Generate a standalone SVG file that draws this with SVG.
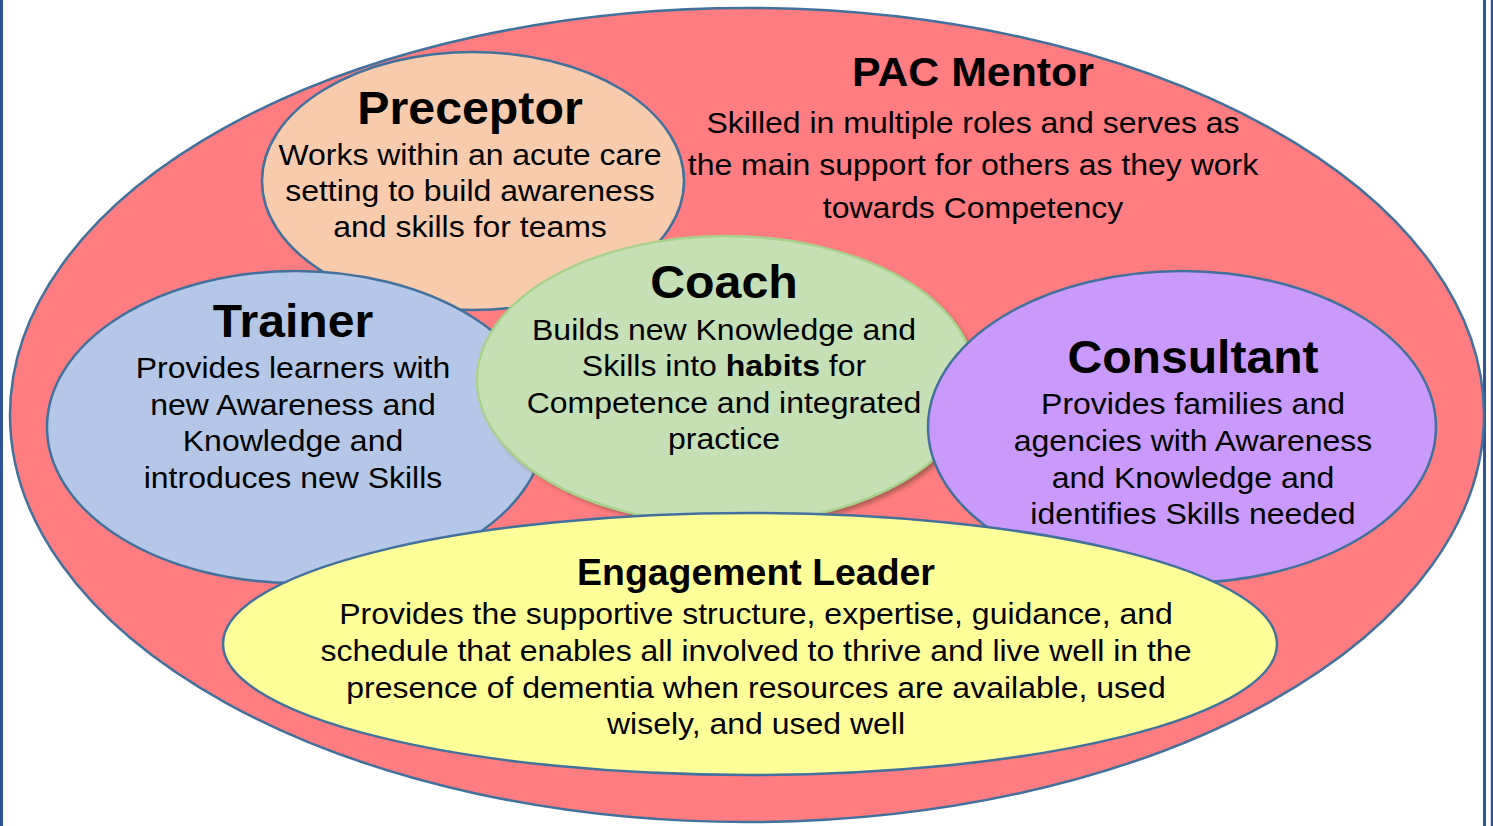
<svg xmlns="http://www.w3.org/2000/svg" width="1493" height="826" viewBox="0 0 1493 826">
<style>
.e{stroke:#41719c;stroke-width:2.5}
.t{font-family:"Liberation Sans",Arial,sans-serif;font-weight:bold;fill:#000;text-anchor:middle}
.b{font-family:"Liberation Sans",Arial,sans-serif;font-size:29px;fill:#000;text-anchor:middle}
</style>
<defs>
<filter id="sh" x="-10%" y="-10%" width="120%" height="120%"><feGaussianBlur stdDeviation="2"/></filter>
</defs>
<rect x="0" y="0" width="1493" height="826" fill="#fff"/>
<line x1="1.5" y1="0" x2="1.5" y2="826" stroke="#2f5597" stroke-width="3"/>
<line x1="1484.5" y1="0" x2="1484.5" y2="826" stroke="#2f5597" stroke-width="3"/>
<line x1="1492" y1="0" x2="1492" y2="826" stroke="#2f5597" stroke-width="2.5"/>
<g id="pac-mentor">
<ellipse class="e" cx="747" cy="415" rx="737" ry="407" fill="#ff7c80"/>
<g transform="translate(973 0)">
<text class="t" x="0" y="86" font-size="41" transform="scale(1.045 1)">PAC Mentor</text>
<g transform="scale(1.103 1)">
<text class="b" x="0" y="133">Skilled in multiple roles and serves as</text>
<text class="b" x="0" y="175">the main support for others as they work</text>
<text class="b" x="0" y="218">towards Competency</text>
</g>
</g>
</g>
<g id="preceptor">
<ellipse class="e" cx="473" cy="181" rx="211" ry="129" fill="#f8cbad"/>
<g transform="translate(470 0)">
<text class="t" x="0" y="124" font-size="46" transform="scale(1.05 1)">Preceptor</text>
<g transform="scale(1.103 1)">
<text class="b" x="0" y="165">Works within an acute care</text>
<text class="b" x="0" y="201">setting to build awareness</text>
<text class="b" x="0" y="237">and skills for teams</text>
</g>
</g>
</g>
<g id="trainer">
<ellipse class="e" cx="296" cy="427" rx="249" ry="156" fill="#b4c7e7"/>
<g transform="translate(293 0)">
<text class="t" x="0" y="337" font-size="46" transform="scale(1.046 1)">Trainer</text>
<g transform="scale(1.103 1)">
<text class="b" x="0" y="378">Provides learners with</text>
<text class="b" x="0" y="415">new Awareness and</text>
<text class="b" x="0" y="451">Knowledge and</text>
<text class="b" x="0" y="488">introduces new Skills</text>
</g>
</g>
</g>
<g id="coach">
<ellipse cx="730" cy="384" rx="249" ry="144" fill="#7a4a3a" opacity="0.6" filter="url(#sh)"/>
<ellipse cx="726" cy="380" rx="249" ry="144" fill="#c5e0b4" stroke="#a9d18e" stroke-width="2.5"/>
<g transform="translate(724 0)">
<text class="t" x="0" y="298" font-size="46" transform="scale(1.05 1)">Coach</text>
<g transform="scale(1.103 1)">
<text class="b" x="0" y="340">Builds new Knowledge and</text>
<text class="b" x="0" y="376">Skills into <tspan font-weight="bold">habits</tspan> for</text>
<text class="b" x="0" y="413">Competence and integrated</text>
<text class="b" x="0" y="449">practice</text>
</g>
</g>
</g>
<g id="consultant">
<ellipse class="e" cx="1182" cy="427" rx="254" ry="156" fill="#c999fb"/>
<g transform="translate(1193 0)">
<text class="t" x="0" y="373" font-size="46" transform="scale(1.046 1)">Consultant</text>
<g transform="scale(1.103 1)">
<text class="b" x="0" y="414">Provides families and</text>
<text class="b" x="0" y="451">agencies with Awareness</text>
<text class="b" x="0" y="488">and Knowledge and</text>
<text class="b" x="0" y="524">identifies Skills needed</text>
</g>
</g>
</g>
<g id="engagement-leader">
<ellipse class="e" cx="750" cy="644" rx="527" ry="131" fill="#ffff99"/>
<g transform="translate(756 0)">
<text class="t" x="0" y="585" font-size="36" transform="scale(1.04 1)">Engagement Leader</text>
<g transform="scale(1.103 1)">
<text class="b" x="0" y="624">Provides the supportive structure, expertise, guidance, and</text>
<text class="b" x="0" y="661">schedule that enables all involved to thrive and live well in the</text>
<text class="b" x="0" y="698">presence of dementia when resources are available, used</text>
<text class="b" x="0" y="734">wisely, and used well</text>
</g>
</g>
</g>
<g id="connectors"/>
</svg>
